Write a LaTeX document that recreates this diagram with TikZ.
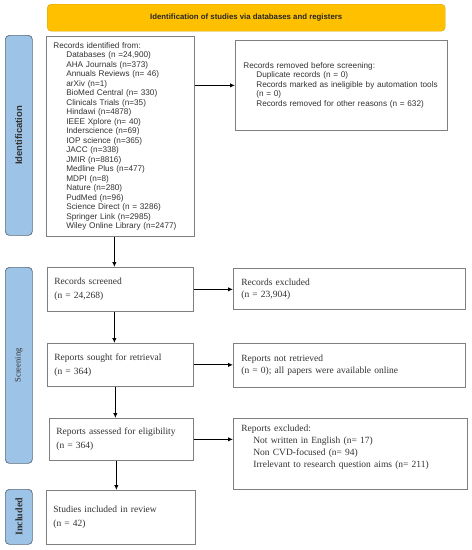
\documentclass[tikz,border=0pt]{standalone}
\usepackage{fontspec}
\setmainfont{Liberation Serif}
\newfontfamily\arialf{Liberation Sans}
\usetikzlibrary{arrows.meta}
\definecolor{banner}{HTML}{FFC000}
\definecolor{bannerborder}{HTML}{D9A300}
\definecolor{side}{HTML}{9DC3E6}
\definecolor{sideborder}{HTML}{5A6B7B}
\definecolor{boxborder}{HTML}{7F7F7F}
\definecolor{txt}{HTML}{333333}
\newcommand\myind{\hspace*{13pt}}
\begin{document}
\begin{tikzpicture}[x=1pt,y=-1pt,
  box/.style={draw=boxborder, line width=0.7pt, anchor=north west, inner xsep=7pt, inner ysep=0pt,
    align=left, fill=white, text=txt},
  sansbox/.style={box, font=\arialf\fontsize{8.2}{9.5}\selectfont},
  serifbox/.style={box, font=\fontsize{9.5}{14}\selectfont},
  serifboxr/.style={box, inner xsep=8pt, font=\fontsize{9.5}{12}\selectfont},
  sidebar/.style={draw=sideborder, line width=0.7pt, fill=side, rounded corners=4pt, anchor=north west, inner sep=0pt},
  sidetext/.style={rotate=90, text=txt},
  arr/.style={-{Latex[length=5pt,width=4.5pt]}, line width=1pt, black}
]
\useasboundingbox (0,0) rectangle (472,550);
\fill[white] (0,0) rectangle (472,550);

% banner
\node[draw=bannerborder, fill=banner, rounded corners=4pt, anchor=north west, minimum width=398pt, minimum height=27pt,
  font=\arialf\bfseries\fontsize{7.8}{9}\selectfont, text=black!85] (banner) at (47,4)
  {Identification of studies via databases and registers};

% side bars
\node[sidebar, minimum width=27pt, minimum height=200pt] (idbar) at (5,35) {};
\node[sidetext, font=\arialf\bfseries\fontsize{9.5}{10}\selectfont] (idtxt) at (idbar.center) {Identification};
\node[sidebar, minimum width=27pt, minimum height=196pt] (scbar) at (5,267) {};
\node[sidetext, font=\fontsize{8.5}{9}\selectfont] (sctxt) at (scbar.center) {Screening};
\node[sidebar, minimum width=27pt, minimum height=55pt] (inbar) at (5,489) {};
\node[sidetext, font=\bfseries\fontsize{10}{11}\selectfont] (intxt) at (inbar.center) {Included};

% boxes
\node[sansbox, minimum width=148pt, minimum height=200pt, text width=134pt] (idbox) at (46,36)
{Records identified from:\\
\myind Databases (n =24,900)\\
\myind AHA Journals (n=373)\\
\myind Annuals Reviews (n= 46)\\
\myind arXiv (n=1)\\
\myind BioMed Central (n= 330)\\
\myind Clinicals Trials (n=35)\\
\myind Hindawi (n=4878)\\
\myind IEEE Xplore (n= 40)\\
\myind Inderscience (n=69)\\
\myind IOP science (n=365)\\
\myind JACC (n=338)\\
\myind JMIR (n=8816)\\
\myind Medline Plus (n=477)\\
\myind MDPI (n=8)\\
\myind Nature (n=280)\\
\myind PudMed (n=96)\\
\myind Science Direct (n = 3286)\\
\myind Springer Link (n=2985)\\
\myind Wiley Online Library (n=2477)};

\node[sansbox, inner xsep=8pt, minimum width=212pt, minimum height=90pt, text width=196pt] (removed) at (235,40)
{Records removed before screening:\\
\myind Duplicate records (n = 0)\\
\myind Records marked as ineligible by automation tools\\
\myind (n = 0)\\
\myind Records removed for other reasons (n = 632)};

\node[serifbox, minimum width=146pt, minimum height=44pt, text width=132pt] (screened) at (47,267)
{Records screened\\(n = 24,268)};
\node[serifboxr, minimum width=232pt, minimum height=41pt, text width=216pt] (excluded) at (233,268)
{Records excluded\\(n = 23,904)};

\node[serifbox, minimum width=146pt, minimum height=43pt, text width=132pt] (sought) at (47,343)
{Reports sought for retrieval\\(n = 364)};
\node[serifboxr, minimum width=232pt, minimum height=44pt, text width=216pt] (notret) at (233,343)
{Reports not retrieved\\(n = 0); all papers were available online};

\node[serifbox, minimum width=144pt, minimum height=42pt, text width=130pt] (assessed) at (49,418)
{Reports assessed for eligibility\\(n = 364)};
\node[serifboxr, minimum width=234pt, minimum height=71pt, text width=218pt] (repexcl) at (233,418)
{Reports excluded:\\
\hspace*{12pt}Not written in English (n= 17)\\
\hspace*{12pt}Non CVD-focused (n= 94)\\
\hspace*{12pt}Irrelevant to research question aims (n= 211)\\[4pt]\mbox{}};

\node[serifbox, minimum width=149pt, minimum height=54pt, text width=135pt] (included) at (46,490)
{Studies included in review\\(n = 42)};

% arrows
\draw[arr] (idbox.east |- removed.west) -- (removed.west);
\draw[arr] (screened.east) -- (screened.east -| excluded.west);
\draw[arr] (sought.east) -- (sought.east -| notret.west);
\draw[arr] (assessed.east) -- (assessed.east -| repexcl.west);

\draw[arr] ([xshift=-6pt]idbox.south) -- ([xshift=-6pt]idbox.south |- screened.north);
\draw[arr] ([xshift=-6pt]screened.south) -- ([xshift=-6pt]screened.south |- sought.north);
\draw[arr] ([xshift=-5pt]sought.south) -- ([xshift=-5pt]sought.south |- assessed.north);
\draw[arr] ([xshift=-5pt]assessed.south) -- ([xshift=-5pt]assessed.south |- included.north);
\end{tikzpicture}
\end{document}
